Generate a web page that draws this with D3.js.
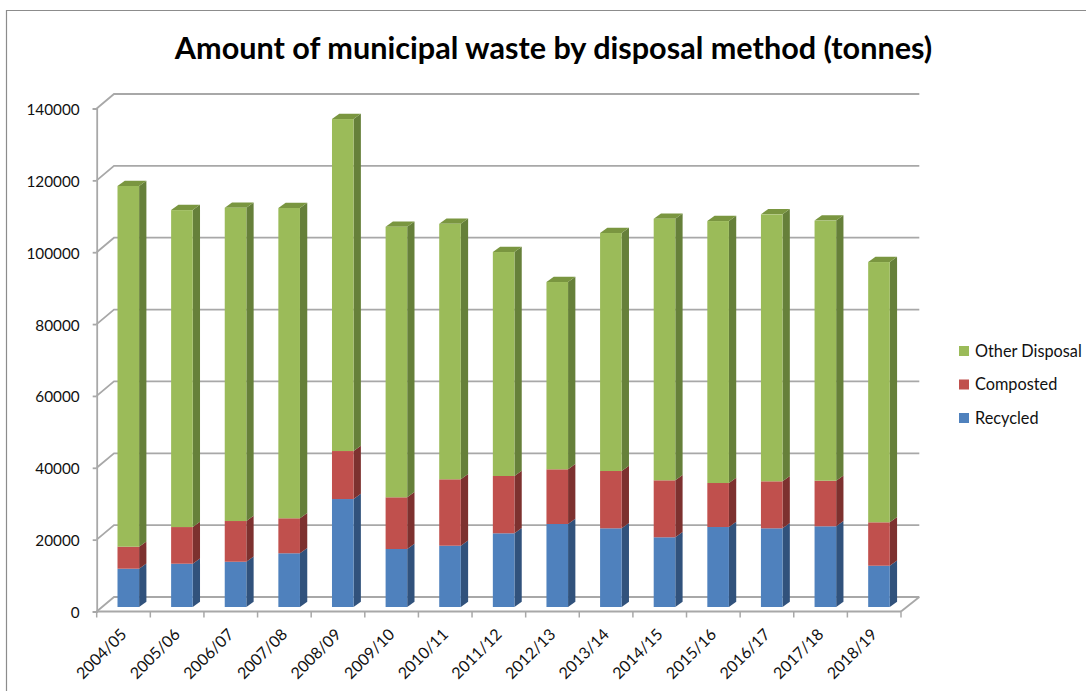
<!DOCTYPE html>
<html><head><meta charset="utf-8">
<script src="https://cdn.jsdelivr.net/npm/d3@7/dist/d3.min.js"></script>
<style>html,body{margin:0;padding:0;background:#fff;overflow:hidden}svg{display:block}text{font-family:Lato,"Open Sans",sans-serif;fill:#111}</style>
</head><body><svg id="c" width="1086" height="691"></svg>
<script>
const categories=["2004/05","2005/06","2006/07","2007/08","2008/09","2009/10","2010/11","2011/12","2012/13","2013/14","2014/15","2015/16","2016/17","2017/18","2018/19"];
const recycled=[10660,12050,12600,14950,30050,16140,17060,20510,23100,21900,19400,22260,21900,22460,11490];
const composted=[6120,10200,11330,9740,13360,14390,18480,15950,15220,15950,15860,12250,13080,12690,12080];
const otherDisposal=[100400,88220,87190,86360,92400,75300,71100,62340,52130,66240,72800,72910,74300,72400,72440];
const seriesNames=["Recycled","Composted","Other Disposal"];
const yTicks=[0,20000,40000,60000,80000,100000,120000,140000];
const faceColors=["#4f81bd","#c0504d","#9bbb59"];
const sideColors=["#31527c","#7d312f","#66803a"];
const topColor="#7a9640";
const title="Amount of municipal waste by disposal method (tonnes)";

const svg=d3.select("#c");
const rows=categories.map((c,i)=>({cat:c,Recycled:recycled[i],Composted:composted[i],"Other Disposal":otherDisposal[i]}));
const stacked=d3.stack().keys(seriesNames)(rows);

const xL=96.7,xR=901,dxWall=18,dyWall=14.5;
const x=d3.scaleBand().domain(categories).range([xL,xR]);
const yFront=d3.scaleLinear().domain([0,140000]).range([611.5,108.5]);
const yBack=d3.scaleLinear().domain([0,140000]).range([597,94]);
const yBar=d3.scaleLinear().domain([0,140000]).range([607,104]);
const barOff=20.8,barW=21.6,dD=7.3,dH=5.3;

svg.append("path").attr("d","M6.5,691V10.5H1086").attr("fill","none").attr("stroke","#8c8c8c").attr("stroke-width",1.2);

svg.append("text").attr("x",553.5).attr("y",59).attr("text-anchor","middle").attr("font-size",30.6).attr("font-weight",700).style("fill","#000").text(title);

const grid="#a8a8a8";
const walls=svg.append("g").attr("fill","none").attr("stroke",grid).attr("stroke-width",1.8);
walls.selectAll("path.g").data(yTicks).join("path").attr("class","g")
 .attr("d",t=>`M${xL},${yFront(t)}L${xL+dxWall-.7},${yBack(t)}H${xR+dxWall+.3}`);
walls.append("path").attr("d",`M${xR},${yFront(0)}L${xR+dxWall+.3},${yBack(0)}`);

const yAxis=svg.append("g").attr("transform",`translate(${xL},0)`).call(d3.axisLeft(yFront).tickValues(yTicks).tickFormat(d3.format("d")).tickSize(4).tickPadding(12));
yAxis.selectAll("path,line").attr("stroke",grid).attr("stroke-width",1.8);
yAxis.selectAll("text").attr("font-size",15.3).attr("dy","0.2em").attr("transform","translate(-1,3)");

const xBound=d3.scaleLinear().domain([0,categories.length]).range([xL,xR]);
svg.append("g").attr("stroke",grid).attr("stroke-width",1.5).selectAll("line").data(d3.range(categories.length+1)).join("line")
 .attr("x1",d=>xBound(d)).attr("x2",d=>xBound(d)).attr("y1",yFront(0)).attr("y2",yFront(0)+6);
svg.append("line").attr("x1",xL).attr("x2",xR).attr("y1",yFront(0)).attr("y2",yFront(0)).attr("stroke",grid).attr("stroke-width",1.8);

const xAxis=svg.append("g").attr("transform",`translate(0,${yFront(0)})`).call(d3.axisBottom(x).tickSize(0));
xAxis.select("path").remove();
xAxis.selectAll("text").attr("font-size",16).attr("text-anchor","end").attr("dy",0).attr("y",0)
 .attr("transform","translate(4,24) rotate(-45)");

stacked.forEach((s,si)=>{
 const g=svg.append("g");
 s.forEach((d,i)=>{
  const c=categories[i],l=x(c)+barOff,r=l+barW,t=yBar(d[1]),b=yBar(d[0]);
  g.append("path").attr("fill",sideColors[si]).attr("d",`M${r},${b}L${r+dD},${b-dH}V${t-dH}L${r},${t}Z`);
  if(si===2) g.append("path").attr("fill",topColor).attr("d",`M${l},${t}L${l+dD},${t-dH}H${r+dD}L${r},${t}Z`);
  g.append("rect").attr("x",l).attr("y",t).attr("width",barW).attr("height",b-t).attr("fill",faceColors[si]);
 });
});

const legendY=d3.scalePoint().domain(seriesNames.slice().reverse()).range([351,418]);
const lg=svg.append("g");
seriesNames.forEach((n,i)=>{
 lg.append("rect").attr("x",959).attr("y",legendY(n)-5).attr("width",10).attr("height",10).attr("fill",faceColors[i]);
 lg.append("text").attr("x",975).attr("y",legendY(n)+5.5).attr("font-size",16.3).text(n);
});
</script></body></html>
